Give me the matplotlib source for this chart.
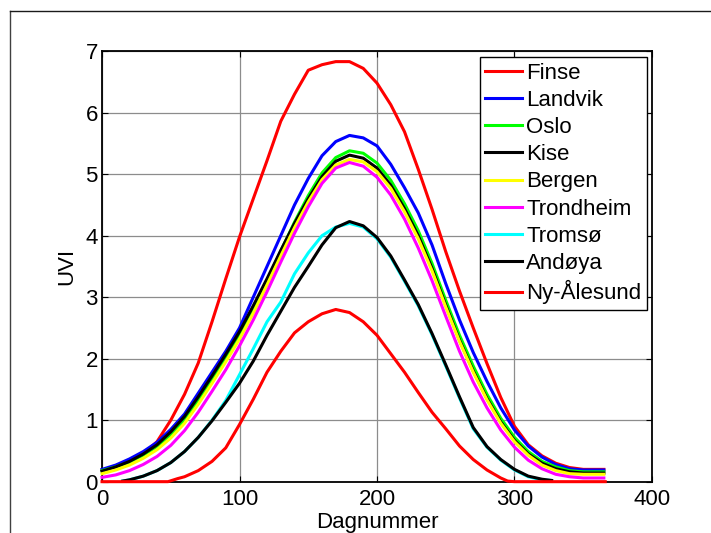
import numpy as np
import matplotlib
matplotlib.use('Agg')
import matplotlib.pyplot as plt
from matplotlib.lines import Line2D

plt.rcParams['font.family'] = ['Liberation Sans', 'DejaVu Sans']
plt.rcParams['font.size'] = 16

# dagnummer for de sørlige stasjonene
dager = [0, 10, 20, 30, 40, 50, 60, 70, 80, 90, 100, 110, 120, 130, 140,
         150, 160, 170, 180, 190, 200, 210, 220, 230, 240, 250, 260, 270,
         280, 290, 300, 310, 320, 330, 340, 350, 360, 365]

finse = [0.19, 0.24, 0.32, 0.45, 0.65, 1.00, 1.42, 1.93, 2.60, 3.30, 3.98,
         4.60, 5.22, 5.86, 6.30, 6.69, 6.78, 6.83, 6.83, 6.72, 6.48, 6.13,
         5.69, 5.08, 4.43, 3.74, 3.10, 2.50, 1.92, 1.37, 0.90, 0.60, 0.42,
         0.30, 0.23, 0.20, 0.20, 0.20]
landvik = [0.20, 0.27, 0.37, 0.49, 0.64, 0.85, 1.10, 1.44, 1.78, 2.12, 2.50,
           3.00, 3.50, 4.00, 4.50, 4.93, 5.30, 5.53, 5.63, 5.59, 5.46, 5.16,
           4.78, 4.37, 3.85, 3.22, 2.63, 2.10, 1.63, 1.20, 0.84, 0.58, 0.40,
           0.28, 0.21, 0.19, 0.19, 0.19]
oslo = [0.18, 0.24, 0.32, 0.43, 0.57, 0.76, 1.00, 1.31, 1.65, 2.00, 2.37,
        2.80, 3.27, 3.75, 4.22, 4.65, 5.02, 5.27, 5.38, 5.34, 5.18, 4.90,
        4.52, 4.08, 3.55, 2.95, 2.38, 1.88, 1.42, 1.03, 0.72, 0.49, 0.33,
        0.24, 0.18, 0.16, 0.16, 0.16]
kise = [0.17, 0.24, 0.33, 0.45, 0.60, 0.81, 1.06, 1.38, 1.72, 2.07, 2.44,
        2.86, 3.30, 3.76, 4.20, 4.60, 4.96, 5.21, 5.31, 5.26, 5.10, 4.82,
        4.44, 4.00, 3.47, 2.87, 2.30, 1.80, 1.35, 0.97, 0.67, 0.45, 0.30,
        0.21, 0.16, 0.14, 0.14, 0.14]
bergen = [0.13, 0.19, 0.27, 0.38, 0.52, 0.71, 0.95, 1.26, 1.60, 1.95, 2.32,
          2.74, 3.20, 3.67, 4.13, 4.55, 4.91, 5.15, 5.24, 5.20, 5.04, 4.77,
          4.39, 3.95, 3.43, 2.84, 2.28, 1.78, 1.33, 0.95, 0.65, 0.43, 0.27,
          0.18, 0.13, 0.12, 0.12, 0.12]
trondheim = [0.07, 0.11, 0.18, 0.28, 0.41, 0.59, 0.83, 1.13, 1.47, 1.82,
             2.21, 2.63, 3.09, 3.57, 4.04, 4.47, 4.85, 5.10, 5.19, 5.13,
             4.95, 4.66, 4.27, 3.80, 3.27, 2.69, 2.12, 1.62, 1.20, 0.84,
             0.56, 0.35, 0.21, 0.12, 0.08, 0.06, 0.06, 0.06]

# nordlige stasjoner, mørketid i starten og slutten av året
nord_dager = [15, 20, 30, 40, 50, 60, 70, 80, 90, 100, 110, 120, 130, 140,
              150, 160, 170, 180, 190, 200, 210, 220, 230, 240, 250, 260,
              270, 280, 290, 300, 310, 320, 327]
tromso = [0.01, 0.03, 0.09, 0.18, 0.31, 0.49, 0.72, 1.00, 1.32, 1.74, 2.16,
          2.60, 2.92, 3.38, 3.72, 4.00, 4.14, 4.20, 4.14, 3.95, 3.65, 3.26,
          2.86, 2.39, 1.88, 1.36, 0.86, 0.56, 0.35, 0.19, 0.08, 0.03, 0.02]
andoya = [0.01, 0.03, 0.09, 0.18, 0.31, 0.49, 0.72, 0.99, 1.29, 1.60, 1.96,
          2.38, 2.77, 3.16, 3.50, 3.85, 4.13, 4.23, 4.16, 3.97, 3.67, 3.28,
          2.88, 2.41, 1.90, 1.38, 0.88, 0.57, 0.36, 0.20, 0.09, 0.04, 0.02]

ny_dager = [0, 10, 20, 30, 40, 48, 55, 60, 70, 80, 90, 100, 110, 120, 130,
            140, 150, 160, 170, 180, 190, 200, 210, 220, 230, 240, 250, 260,
            270, 280, 290, 295, 300, 320, 340, 366]
ny_alesund = [0, 0, 0, 0, 0, 0, 0.05, 0.08, 0.18, 0.33, 0.55, 0.93, 1.34,
              1.78, 2.12, 2.42, 2.60, 2.73, 2.80, 2.75, 2.60, 2.38, 2.08,
              1.78, 1.45, 1.13, 0.86, 0.58, 0.36, 0.19, 0.06, 0.01, 0, 0, 0,
              0]

serier = [
    ('Finse', dager, finse, '#ff0000'),
    ('Landvik', dager, landvik, '#0000ff'),
    ('Oslo', dager, oslo, '#00ff00'),
    ('Kise', dager, kise, '#000000'),
    ('Bergen', dager, bergen, '#ffff00'),
    ('Trondheim', dager, trondheim, '#ff00ff'),
    ('Tromsø', nord_dager, tromso, '#00ffff'),
    ('Andøya', nord_dager, andoya, '#000000'),
    ('Ny-Ålesund', ny_dager, ny_alesund, '#ff0000'),
]

fig = plt.figure(figsize=(7.11, 5.33), dpi=100)
ax = fig.add_axes([0.1435, 0.0963, 0.7735, 0.8077])

for navn, x, y, farge in serier:
    ax.plot(x, y, color=farge, lw=2.2, label=navn, clip_on=False, zorder=3)

ax.set_xlim(0, 400)
ax.set_ylim(0, 7)
ax.set_xticks([0, 100, 200, 300, 400])
ax.set_yticks(range(8))
ax.grid(True, color='0.55', lw=0.9)
ax.set_axisbelow(True)
ax.tick_params(direction='in', length=4, width=0.8, top=True, right=True)
ax.tick_params(axis='x', pad=5)
ax.tick_params(axis='y', pad=3)
for s in ax.spines.values():
    s.set_linewidth(1.3)
ax.set_xlabel('Dagnummer', labelpad=2)
ax.set_ylabel('UVI', labelpad=6)

leg = ax.legend(loc='upper right', bbox_to_anchor=(647 / 711, 1 - 57 / 533),
                bbox_transform=fig.transFigure, borderaxespad=0,
                fancybox=False, framealpha=1, edgecolor='black',
                handlelength=1.67, handletextpad=0.18, labelspacing=0.28,
                borderpad=0.25)
leg.get_frame().set_linewidth(1.0)
leg.set_zorder(5)

# ramme rundt figuren
fig.add_artist(Line2D([10 / 711, 10 / 711], [0, 1 - 11 / 533], color='0.25', lw=1))
fig.add_artist(Line2D([10 / 711, 1], [1 - 11 / 533, 1 - 11 / 533], color='0.1', lw=1))

fig.savefig('out.png', dpi=100)
